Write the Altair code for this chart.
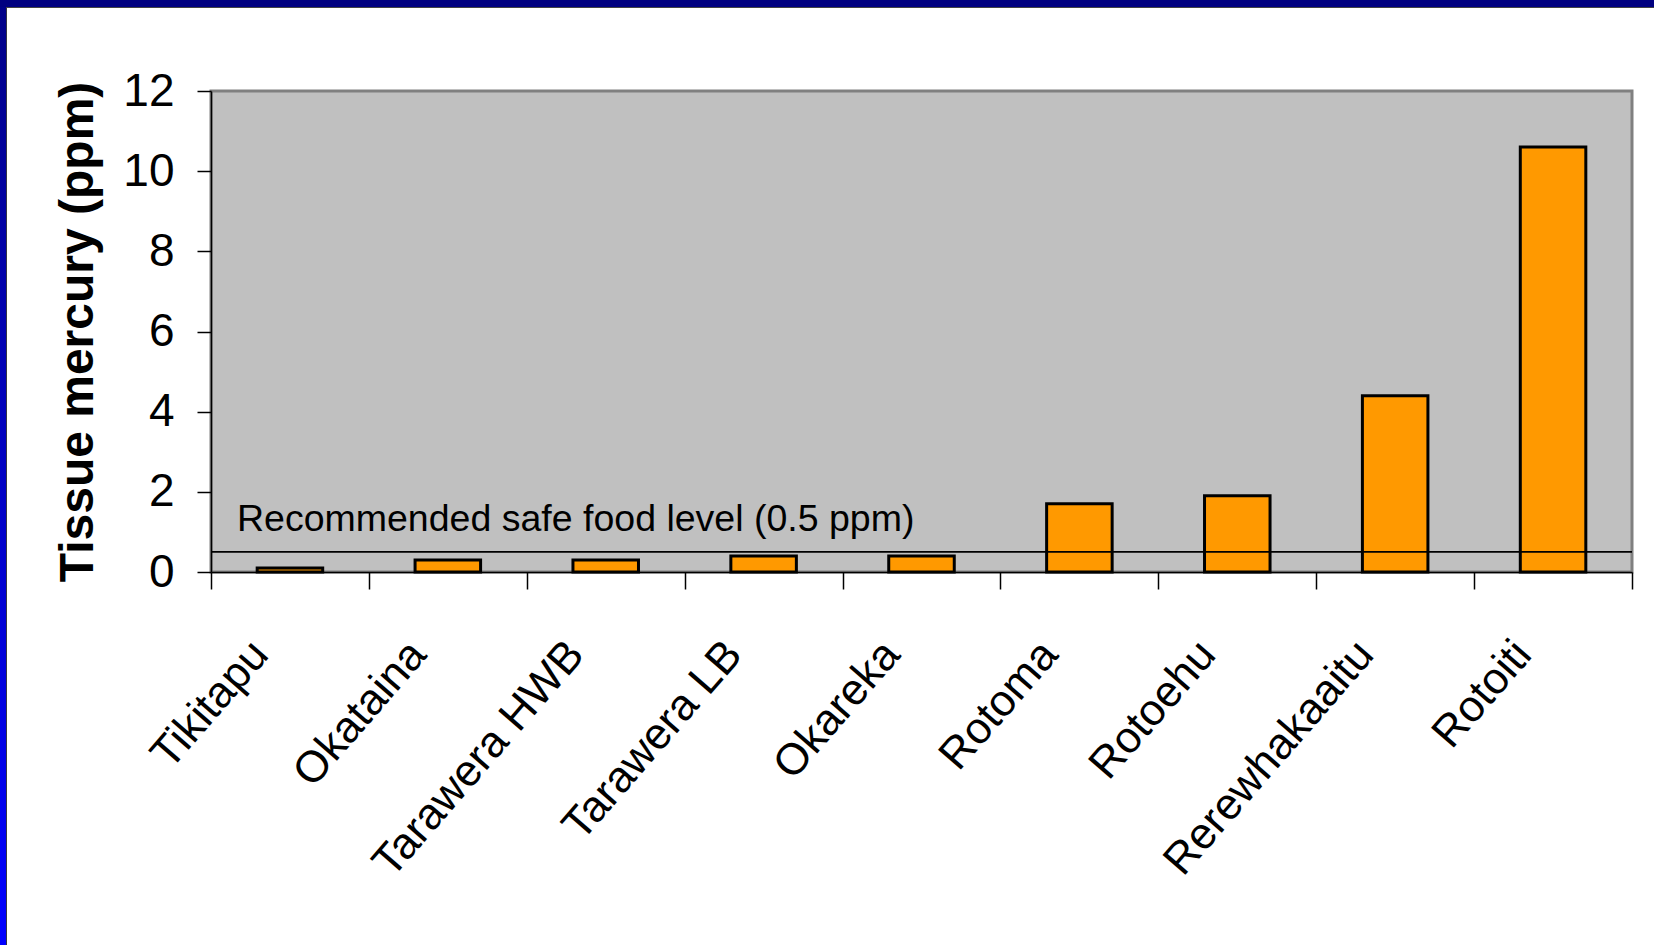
import altair as alt
import pandas as pd

# Lake fish tissue mercury readings (ppm)
lakes = ["Tikitapu", "Okataina", "Tarawera HWB", "Tarawera LB", "Okareka",
         "Rotoma", "Rotoehu", "Rerewhakaaitu", "Rotoiti"]
mercury_ppm = [0.1, 0.3, 0.3, 0.4, 0.4, 1.7, 1.9, 4.4, 10.6]

# Recommended safe food level
safe_level_ppm = [0.5]
safe_level_label = ["Recommended safe food level (0.5 ppm)"]

y_ticks = [0, 2, 4, 6, 8, 10, 12]

bars_df = pd.DataFrame({"lake": lakes, "mercury": mercury_ppm})
safe_df = pd.DataFrame({"level": safe_level_ppm, "label": safe_level_label})
frame_df = pd.DataFrame({"part": ["frame"]})

FONT = "Liberation Sans"
PLOT_W, PLOT_H = 1421, 481
PAD = {"left": 211, "top": 91, "right": 22, "bottom": 373}
PAGE_W, PAGE_H = 1654, 945

x_enc = alt.X(
    "lake:N",
    sort=lakes,
    scale=alt.Scale(paddingInner=0, paddingOuter=0),
    axis=alt.Axis(
        title=None,
        tickBand="extent",
        labelAngle=311,
        labelAlign="right",
        labelBaseline="middle",
        labelFont=FONT,
        labelFontSize=44,
        labelColor="black",
        labelPadding=58,
        labelOffset=-30,
        labelLimit=0,
        labelOverlap=False,
        tickSize=17,
        tickColor="black",
        tickWidth=1.5,
        domainColor="black",
        domainWidth=1.5,
    ),
)

y_enc = alt.Y(
    "mercury:Q",
    scale=alt.Scale(domain=[0, 12], nice=False),
    axis=alt.Axis(
        values=y_ticks,
        title="Tissue mercury (ppm)",
        titleFont=FONT,
        titleFontSize=48,
        titleFontWeight="bold",
        titleColor="black",
        titlePadding=20,
        labelFont=FONT,
        labelFontSize=46,
        labelColor="black",
        labelPadding=23,
        tickSize=14,
        tickColor="black",
        tickWidth=1.5,
        domainColor="black",
        domainWidth=1.5,
        grid=False,
    ),
)

bars = alt.Chart(bars_df).mark_bar(
    color="#FF9900", stroke="black", strokeWidth=3,
    width=alt.RelativeBandSize(0.415),
).encode(x=x_enc, y=y_enc)

safe_rule = alt.Chart(safe_df).mark_rule(color="black", strokeWidth=1.8).encode(
    y=alt.Y("level:Q")
)

safe_text = alt.Chart(safe_df).mark_text(
    align="left", baseline="alphabetic", font=FONT, fontSize=37.5,
    color="black", dy=-21
).encode(x=alt.value(26), y=alt.Y("level:Q"), text="label:N")

# Slide frame: navy band on top, blue gradient band down the left side
left_band = alt.Chart(frame_df).mark_rect(
    color=alt.LinearGradient(
        gradient="linear",
        stops=[alt.GradientStop(color="#000088", offset=0),
               alt.GradientStop(color="#0000FF", offset=1)],
        x1=0, x2=0, y1=0, y2=1,
    )
).encode(
    x=alt.value(-PAD["left"]), x2=alt.value(-PAD["left"] + 6),
    y=alt.value(-PAD["top"]), y2=alt.value(PAGE_H - PAD["top"]),
)
left_edge = alt.Chart(frame_df).mark_rect(color="#333344").encode(
    x=alt.value(-PAD["left"] + 6), x2=alt.value(-PAD["left"] + 7),
    y=alt.value(-PAD["top"]), y2=alt.value(PAGE_H - PAD["top"]),
)
top_band = alt.Chart(frame_df).mark_rect(color="#000080").encode(
    x=alt.value(-PAD["left"]), x2=alt.value(PAGE_W - PAD["left"]),
    y=alt.value(-PAD["top"]), y2=alt.value(-PAD["top"] + 7),
)
top_edge = alt.Chart(frame_df).mark_rect(color="#444444").encode(
    x=alt.value(-PAD["left"] + 6), x2=alt.value(PAGE_W - PAD["left"]),
    y=alt.value(-PAD["top"] + 7), y2=alt.value(-PAD["top"] + 8),
)

chart = alt.layer(
    bars, safe_rule, safe_text, left_band, left_edge, top_band, top_edge
).properties(
    width=PLOT_W,
    height=PLOT_H,
    padding=PAD,
    autosize=alt.AutoSizeParams(type="none"),
    background="white",
).configure_view(
    fill="#C0C0C0", stroke="#808080", strokeWidth=3
)

chart.save("out.html", embed_options={"renderer": "svg", "actions": False})
